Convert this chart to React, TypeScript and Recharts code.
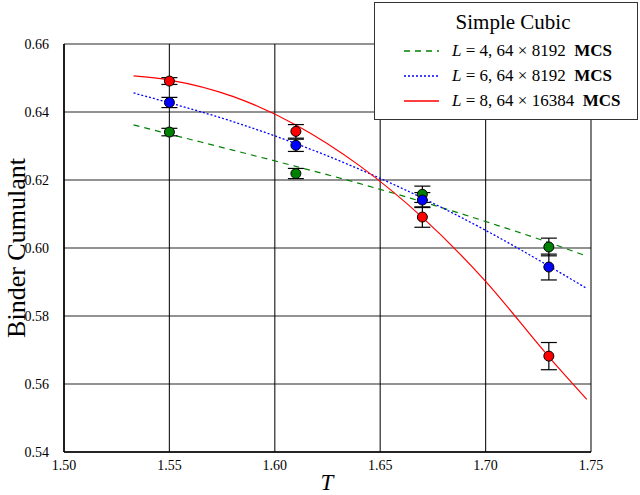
import {
  ComposedChart,
  Line,
  Scatter,
  ErrorBar,
  XAxis,
  YAxis,
  CartesianGrid,
} from 'recharts'

const temps = [1.55, 1.61, 1.67, 1.73]

// measured binder cumulant + error, per lattice size
const l4Values = [0.6341, 0.6219, 0.6158, 0.6003]
const l4Errors = [0.0011, 0.0015, 0.0024, 0.0026]
const l6Values = [0.6428, 0.6302, 0.6141, 0.5944]
const l6Errors = [0.0015, 0.0018, 0.0022, 0.0038]
const l8Values = [0.6491, 0.6343, 0.6091, 0.5682]
const l8Errors = [0.001, 0.002, 0.003, 0.004]

// fit curves
const fitT = [1.533, 1.55, 1.58, 1.61, 1.64, 1.67, 1.7, 1.73, 1.748]
const l4Fit = [0.6362, 0.6335, 0.6288, 0.6240, 0.6190, 0.6136, 0.6078, 0.6016, 0.5976]
const l6Fit = [0.6456, 0.6427, 0.6372, 0.6307, 0.6232, 0.6147, 0.6052, 0.5947, 0.5881]
const l8Fit = [0.6506, 0.6494, 0.6446, 0.6362, 0.6243, 0.609, 0.5902, 0.568, 0.5555]

const xTicks = [1.5, 1.55, 1.6, 1.65, 1.7, 1.75]
const yTicks = [0.54, 0.56, 0.58, 0.6, 0.62, 0.64, 0.66]

const GREEN = '#008000'
const BLUE = '#0000ff'
const RED = '#ff0000'
const SERIF = '"Liberation Serif", "DejaVu Serif", serif'

const points = (vals: number[], errs: number[]) =>
  temps.map((x, i) => ({ x, y: vals[i], err: errs[i] }))
const curve = (vals: number[]) => fitT.map((x, i) => ({ x, y: vals[i] }))

const dot = (fill: string) => (props: any) => (
  <circle cx={props.cx} cy={props.cy} r={5} fill={fill} stroke="#000" strokeWidth={1} />
)

const legendRows = [
  { color: GREEN, dash: '6 5', n: '4', mcs: '8192' },
  { color: BLUE, dash: '2 2', n: '6', mcs: '8192' },
  { color: RED, dash: undefined, n: '8', mcs: '16384' },
]

function LegendBox() {
  return (
    <div
      style={{
        position: 'absolute',
        left: 374,
        top: 2,
        width: 264,
        height: 118,
        background: '#fff',
        border: '1.5px solid #333',
        fontFamily: SERIF,
        boxSizing: 'border-box',
        color: '#000',
      }}
    >
      <div style={{ textAlign: 'center', fontSize: 21, marginTop: 7, height: 28, paddingLeft: 14 }}>
        Simple Cubic
      </div>
      {legendRows.map((r) => (
        <div key={r.n} style={{ display: 'flex', alignItems: 'center', height: 25, fontSize: 17 }}>
          <svg width={77} height={10} style={{ flexShrink: 0 }}>
            <line x1={29} x2={64} y1={5} y2={5} stroke={r.color} strokeWidth={1.3} strokeDasharray={r.dash} />
          </svg>
          <span style={{ whiteSpace: 'nowrap' }}>
            <i>L</i> = {r.n}, 64 × {r.mcs}&nbsp;&nbsp;<b>MCS</b>
          </span>
        </div>
      ))}
    </div>
  )
}

function AxisTitles() {
  return (
    <svg
      width={640}
      height={495}
      style={{ position: 'absolute', left: 0, top: 0, pointerEvents: 'none' }}
    >
      <text
        x={0}
        y={0}
        transform="translate(25, 248) rotate(-90)"
        textAnchor="middle"
        style={{ fontFamily: SERIF, fontSize: 26, fill: '#000' }}
      >
        Binder Cumulant
      </text>
      <text
        x={327}
        y={490}
        textAnchor="middle"
        style={{ fontFamily: SERIF, fontStyle: 'italic', fontSize: 23, fill: '#000' }}
      >
        T
      </text>
    </svg>
  )
}

export default function App() {
  return (
    <div style={{ position: 'absolute', left: 0, top: 0, width: 640, height: 495, background: '#fff' }}>
      <ComposedChart
        width={640}
        height={495}
        margin={{ top: 44, right: 49, bottom: 0, left: 0 }}
      >
        <CartesianGrid stroke="#000" strokeOpacity={0.85} strokeWidth={1.2} />
        <XAxis
          type="number"
          dataKey="x"
          domain={[1.5, 1.75]}
          ticks={xTicks}
          tickFormatter={(v: number) => v.toFixed(2)}
          height={43}
          tickLine={false}
          axisLine={{ stroke: '#000', strokeWidth: 1.5 }}
          tick={{ fill: '#000', fontFamily: SERIF, fontSize: 14 }}
          tickMargin={2}
          allowDataOverflow
        />
        <YAxis
          type="number"
          dataKey="y"
          domain={[0.54, 0.66]}
          ticks={yTicks}
          tickFormatter={(v: number) => v.toFixed(2)}
          width={64}
          tickLine={false}
          axisLine={{ stroke: '#000', strokeWidth: 1.5 }}
          tick={{ fill: '#000', fontFamily: SERIF, fontSize: 14 }}
          tickMargin={9}
          allowDataOverflow
        />
        <Line data={curve(l4Fit)} dataKey="y" type="monotone" stroke={GREEN} strokeWidth={1.2} strokeDasharray="6 5" dot={false} isAnimationActive={false} />
        <Line data={curve(l6Fit)} dataKey="y" type="monotone" stroke={BLUE} strokeWidth={1.3} strokeDasharray="2 2" dot={false} isAnimationActive={false} />
        <Line data={curve(l8Fit)} dataKey="y" type="monotone" stroke={RED} strokeWidth={1.2} dot={false} isAnimationActive={false} />
        <Scatter data={points(l4Values, l4Errors)} dataKey="y" shape={dot(GREEN)} isAnimationActive={false}>
          <ErrorBar dataKey="err" direction="y" width={8} stroke="#000" strokeWidth={1.2} />
        </Scatter>
        <Scatter data={points(l6Values, l6Errors)} dataKey="y" shape={dot(BLUE)} isAnimationActive={false}>
          <ErrorBar dataKey="err" direction="y" width={8} stroke="#000" strokeWidth={1.2} />
        </Scatter>
        <Scatter data={points(l8Values, l8Errors)} dataKey="y" shape={dot(RED)} isAnimationActive={false}>
          <ErrorBar dataKey="err" direction="y" width={8} stroke="#000" strokeWidth={1.2} />
        </Scatter>
      </ComposedChart>
      <AxisTitles />
      <LegendBox />
    </div>
  )
}
